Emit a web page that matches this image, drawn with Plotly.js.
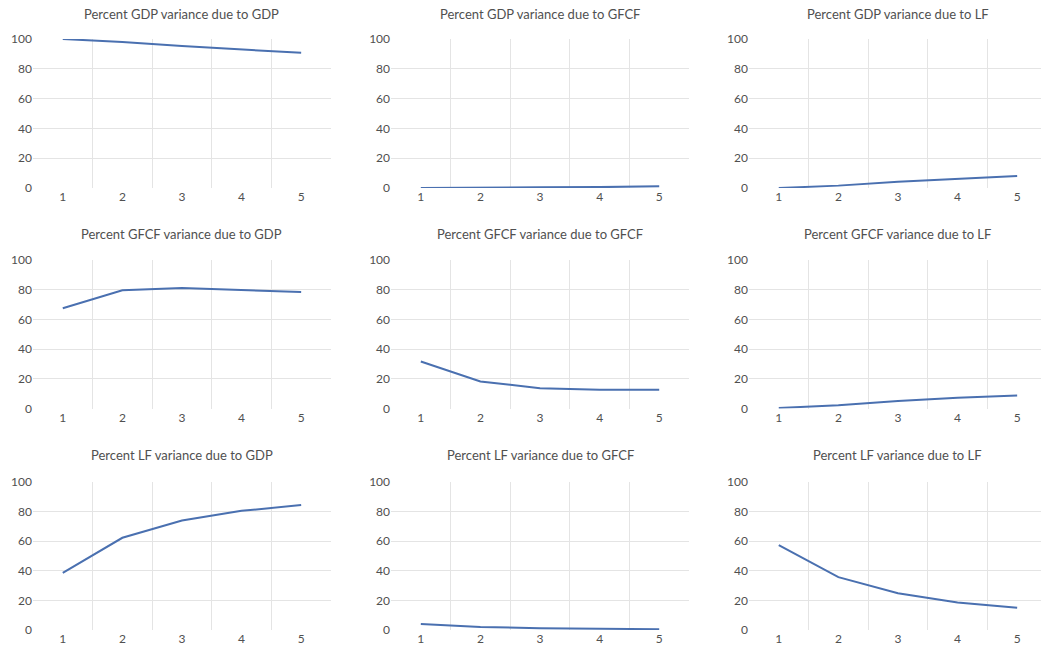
<!DOCTYPE html>
<html>
<head>
<meta charset="utf-8">
<script src="https://cdn.plot.ly/plotly-3.0.1.min.js"></script>
<style>
  html, body { margin: 0; padding: 0; background: #ffffff; overflow: hidden; }
  #chart { width: 1050px; height: 651px; }
</style>
</head>
<body>
<div id="chart"></div>
<script>
// Forecast horizons (periods ahead)
const periods = ["1", "2", "3", "4", "5"];

// Variance decomposition of GDP
const gdpDueToGdp  = [100, 98.0, 95.3, 93.0, 90.7];
const gdpDueToGfcf = [0, 0.4, 0.5, 0.6, 1.2];
const gdpDueToLf   = [0, 1.6, 4.2, 6.4, 8.1];

// Variance decomposition of GFCF
const gfcfDueToGdp  = [67.5, 79.6, 81.1, 79.8, 78.5];
const gfcfDueToGfcf = [31.7, 18.2, 13.7, 12.7, 12.7];
const gfcfDueToLf   = [0.4, 2.2, 5.0, 7.3, 8.8];

// Variance decomposition of LF
const lfDueToGdp  = [38.6, 62.3, 74.0, 80.5, 84.4];
const lfDueToGfcf = [4.0, 2.0, 1.2, 1.0, 0.5];
const lfDueToLf   = [57.4, 35.7, 24.8, 18.5, 15.1];

const yTicks = [0, 20, 40, 60, 80, 100];

const panels = [
  { title: "Percent GDP variance due to GDP",   values: gdpDueToGdp },
  { title: "Percent GDP variance due to GFCF",  values: gdpDueToGfcf },
  { title: "Percent GDP variance due to LF",    values: gdpDueToLf },
  { title: "Percent GFCF variance due to GDP",  values: gfcfDueToGdp },
  { title: "Percent GFCF variance due to GFCF", values: gfcfDueToGfcf },
  { title: "Percent GFCF variance due to LF",   values: gfcfDueToLf },
  { title: "Percent LF variance due to GDP",    values: lfDueToGdp },
  { title: "Percent LF variance due to GFCF",   values: lfDueToGfcf },
  { title: "Percent LF variance due to LF",     values: lfDueToLf }
];

// Grid geometry (paper fractions)
const colDomains = [[0.0314, 0.3152], [0.3724, 0.6562], [0.7133, 0.9971]];
const rowDomains = [[0.7112, 0.9401], [0.3725, 0.6006], [0.0323, 0.2596]];
const titleY = [0.9785, 0.6406, 0.3011];

const textColor = "#505050";
const gridColor = "#e4e4e4";
const lineColor = "#4a70b0";
const fontFamily = "Lato, 'Open Sans', sans-serif";

const traces = [];
const layout = {
  width: 1050,
  height: 651,
  margin: { l: 0, r: 0, t: 0, b: 0 },
  paper_bgcolor: "#ffffff",
  plot_bgcolor: "#ffffff",
  showlegend: false,
  font: { family: fontFamily, color: textColor },
  annotations: []
};

panels.forEach((p, i) => {
  const row = Math.floor(i / 3);
  const col = i % 3;
  const n = i + 1;
  const xKey = n === 1 ? "xaxis" : "xaxis" + n;
  const yKey = n === 1 ? "yaxis" : "yaxis" + n;
  const xRef = n === 1 ? "x" : "x" + n;
  const yRef = n === 1 ? "y" : "y" + n;

  traces.push({
    type: "scatter",
    mode: "lines",
    x: periods,
    y: p.values,
    xaxis: xRef,
    yaxis: yRef,
    line: { color: lineColor, width: 2 },
    hoverinfo: "x+y"
  });

  layout[xKey] = {
    domain: colDomains[col],
    anchor: yRef,
    type: "category",
    range: [-0.5, 4.5],
    tickson: "boundaries",
    showgrid: true,
    gridcolor: gridColor,
    gridwidth: 1,
    showline: false,
    zeroline: false,
    ticks: "",
    tickfont: { family: fontFamily, size: 12, color: textColor },
    fixedrange: true
  };

  layout[yKey] = {
    domain: rowDomains[row],
    anchor: xRef,
    range: [0, 100],
    tickmode: "array",
    tickvals: yTicks,
    showgrid: true,
    gridcolor: gridColor,
    gridwidth: 1,
    showline: false,
    zeroline: false,
    ticks: "",
    tickfont: { family: fontFamily, size: 12, color: textColor },
    fixedrange: true
  };

  layout.annotations.push({
    text: p.title,
    xref: "paper",
    yref: "paper",
    x: (colDomains[col][0] + colDomains[col][1]) / 2,
    y: titleY[row],
    xanchor: "center",
    yanchor: "middle",
    showarrow: false,
    font: { family: fontFamily, size: 13, color: textColor }
  });
});

Plotly.newPlot("chart", traces, layout, { displayModeBar: false, staticPlot: true });
</script>
</body>
</html>
